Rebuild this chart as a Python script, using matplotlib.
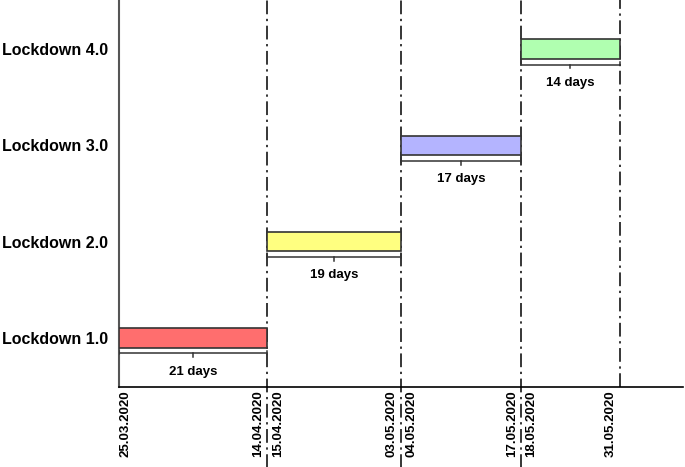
import matplotlib.pyplot as plt
from matplotlib.transforms import blended_transform_factory

plt.rcParams['font.family'] = ['Liberation Sans', 'DejaVu Sans']

# data
phases = ['Lockdown 1.0', 'Lockdown 2.0', 'Lockdown 3.0', 'Lockdown 4.0']
days = [21, 19, 17, 14]
start_dates = ['25.03.2020', '15.04.2020', '04.05.2020', '18.05.2020']
end_dates = ['14.04.2020', '03.05.2020', '17.05.2020', '31.05.2020']
colors = ['#ff6e6e', '#ffff80', '#b4b4ff', '#b0ffb0']

fig = plt.figure(figsize=(6.85, 4.67), dpi=100)
ax = fig.add_axes([0.174, 0.171, 0.823, 0.829])

starts = [sum(days[:i]) for i in range(len(days))]
ypos = list(range(1, len(phases) + 1))
bar_h = 0.2

ax.barh(ypos, days, left=starts, height=bar_h, color=colors,
        edgecolor='#333333', linewidth=1.2, zorder=3)

# braces below each bar
for y, s, d in zip(ypos, starts, days):
    yb = y - bar_h / 2 - 0.06
    ax.plot([s, s + d], [yb, yb], color='#333333', lw=1.1, zorder=4)
    for xe in (s, s + d):
        ax.plot([xe, xe], [yb - 0.01, yb + 0.03], color='#333333', lw=1.1, zorder=4)
    ax.plot([s + d / 2, s + d / 2], [yb, yb - 0.04], color='#333333', lw=1.1, zorder=4)
    ax.text(s + d / 2, y - bar_h / 2 - 0.25, f'{d} days', ha='center', va='center',
            fontsize=9.5, fontweight='bold')

# dash-dot separators
ends = [s + d for s, d in zip(starts, days)]
for i, xe in enumerate(ends):
    low = -0.22 if i < len(ends) - 1 else 0
    ax.axvline(xe, ymin=low, ymax=1, color='black', lw=1.1,
               linestyle=(0, (9, 3, 1.5, 3)), clip_on=False, zorder=2)

# date labels below the axis
trans = blended_transform_factory(ax.transData, ax.transAxes)
lbl = dict(rotation=90, ha='center', va='top', fontsize=9.5, fontweight='bold',
           transform=trans)
ax.text(starts[0] + 0.85, -0.008, start_dates[0], **lbl)
for i, xe in enumerate(ends):
    ax.text(xe - 1.3, -0.008, end_dates[i], **lbl)
    if i + 1 < len(start_dates):
        ax.text(xe + 1.5, -0.008, start_dates[i + 1], **lbl)

ax.set_xlim(0, 80)
ax.set_ylim(0.49, 4.51)
ax.set_yticks(ypos)
ax.set_yticklabels(phases, fontsize=11.5, fontweight='bold')
ax.set_xticks([])
ax.tick_params(axis='y', length=0, pad=8)

ax.spines['top'].set_visible(False)
ax.spines['right'].set_visible(False)
ax.spines['left'].set_color('#555555')
ax.spines['left'].set_linewidth(1.5)
ax.spines['bottom'].set_color('black')
ax.spines['bottom'].set_linewidth(1.2)

fig.savefig('out.png', dpi=100)
